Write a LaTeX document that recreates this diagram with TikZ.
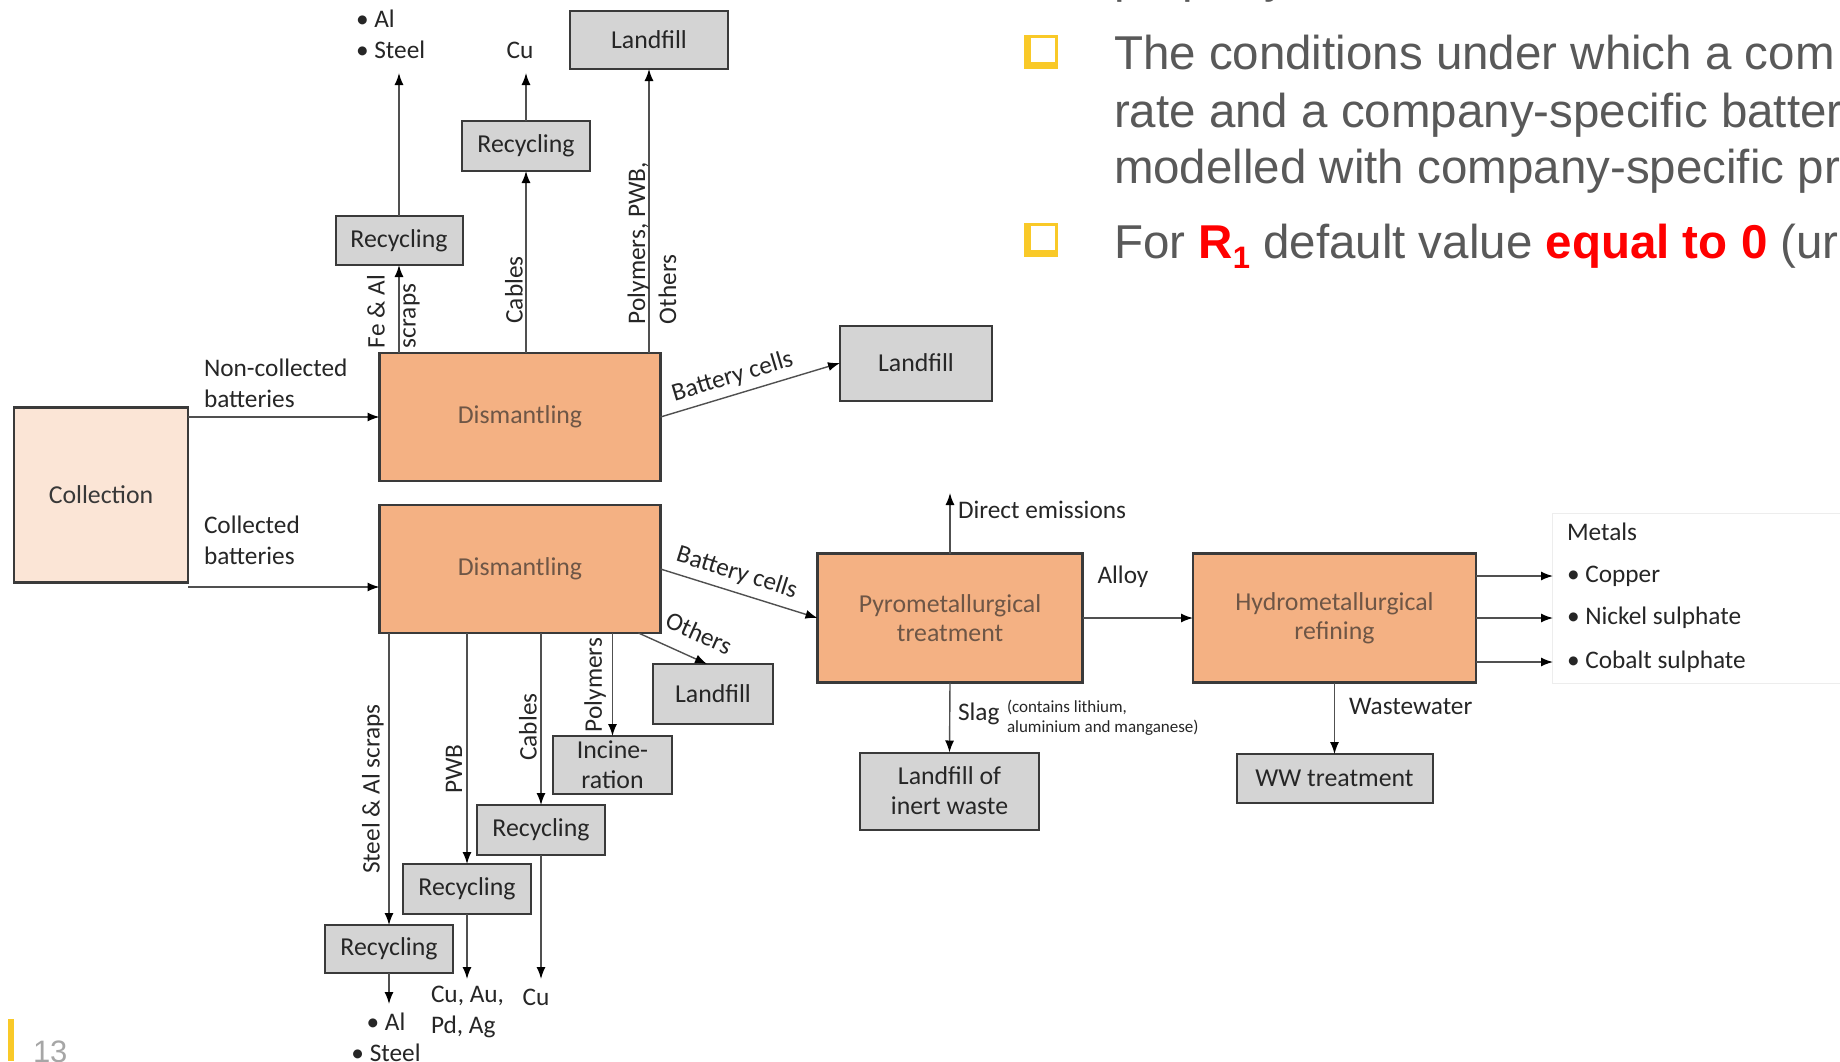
\documentclass[tikz,border=0pt]{standalone}
\usepackage{fontspec}
\setmainfont{Carlito}
\newfontfamily\slidefont{Liberation Sans}
\usetikzlibrary{arrows.meta}
\definecolor{orangebox}{HTML}{F4B183}
\definecolor{peach}{HTML}{FBE5D6}
\definecolor{graybox}{HTML}{D4D4D4}
\definecolor{edge}{HTML}{3A3A3A}
\definecolor{boxtext}{HTML}{6E5646}
\definecolor{txt}{HTML}{262626}
\definecolor{linec}{HTML}{505050}
\definecolor{slidegray}{HTML}{595959}
\definecolor{slideyellow}{HTML}{F9C928}
\definecolor{slidered}{HTML}{FF0000}
\begin{document}
\begin{tikzpicture}[x=1pt,y=-1pt,
 every node/.style={inner sep=0pt,outer sep=0pt},
 lbl/.style={font=\fontsize{25.3}{31}\selectfont, text=txt},
 small/.style={font=\fontsize{17}{20}\selectfont, text=txt},
 proc/.style={draw=edge, line width=2.2pt, fill=orangebox, text=boxtext, font=\fontsize{25.8}{29}\selectfont, align=center},
 gbox/.style={draw=edge, line width=2pt, fill=graybox, text=txt, font=\fontsize{25.8}{30}\selectfont, align=center},
 flow/.style={draw=linec, line width=1.4pt, -{Latex[length=12pt,width=9pt,color=black]}},
 slide/.style={font=\slidefont\fontsize{47.5}{57}\selectfont, text=slidegray, anchor=base west},
]
\fill[white] (0,0) rectangle (1840,1061);
\useasboundingbox (0,0) rectangle (1840,1061);
\clip (0,0) rectangle (1840,1061);

% ---------- process boxes ----------
\node[proc, fill=peach, text=black!78, minimum width=174, minimum height=175] (coll) at (101,495) {Collection};
\node[proc, minimum width=281, minimum height=128] (dis1) at (520,417) {Dismantling};
\node[proc, minimum width=281, minimum height=128] (dis2) at (520,569) {Dismantling};
\node[proc, minimum width=265, minimum height=129] (pyro) at (950,618) {Pyrometallurgical\\treatment};
\node[proc, minimum width=283, minimum height=129] (hydro) at (1334.5,618) {Hydrometallurgical\\refining};

% ---------- grey boxes ----------
\node[gbox, minimum width=152, minimum height=75] (lf1) at (916,363) {Landfill};
\node[gbox, minimum width=127, minimum height=49] (rec1) at (399,240.5) {Recycling};
\node[gbox, minimum width=128, minimum height=50] (rec2) at (526,146) {Recycling};
\node[gbox, minimum width=158, minimum height=58] (lf2) at (649,40) {Landfill};
\node[gbox, minimum width=120, minimum height=60] (lf3) at (713,694) {Landfill};
\node[gbox, minimum width=119, minimum height=58] (inc) at (612.5,765) {Incine-\\ration};
\node[gbox, minimum width=128, minimum height=50] (rec3) at (541,830) {Recycling};
\node[gbox, minimum width=128, minimum height=50] (rec4) at (467,889) {Recycling};
\node[gbox, minimum width=128, minimum height=48] (rec5) at (389,949) {Recycling};
\node[gbox, minimum width=179, minimum height=77] (lfi) at (949.5,791) {Landfill of\\inert waste};
\node[gbox, minimum width=196, minimum height=49] (ww) at (1334.5,778.5) {WW treatment};

% ---------- free coordinates ----------
\coordinate (t1) at (399,73);
\coordinate (t2) at (526,73);
\coordinate (de) at (950,493);
\coordinate (t5) at (389,1004);
\coordinate (t4) at (467,979);
\coordinate (t3) at (541,979);
\path ([yshift=-4.5pt]coll.south east) coordinate (c2);

% ---------- output texts ----------
\node[lbl, align=left, anchor=west] (oalst) at (356,34) {• Al\\• Steel};
\node[lbl] (ocu) at (520,50) {Cu};
\node[lbl, align=center] (oalst2) at (386,1037) {• Al\\• Steel};
\node[lbl, align=left, anchor=west] (ocuau) at (431,1012) {Cu, Au,\\Pd, Ag};
\node[lbl] (ocu2) at (536,997) {Cu};

% ---------- top flows ----------
\draw[flow] (dis1.north -| rec1) -- (rec1.south);
\draw[flow] (rec1.north) -- (t1);
\draw[flow] (dis1.north -| rec2) -- (rec2.south);
\draw[flow] (rec2.north) -- (t2);
\draw[flow] (dis1.north -| lf2) -- (lf2.south);
\node[lbl, rotate=90, align=left, anchor=west] (lfeal) at (393.5,348) {Fe \& Al\\scraps};
\node[lbl, rotate=90] (lcab1) at (514,290) {Cables};
\node[lbl, rotate=90, align=left, anchor=west] (lpoly1) at (652,324) {Polymers, PWB,\\Others};

% ---------- collection flows ----------
\node[lbl, align=left, anchor=west] (lnc) at (204,383) {Non-collected\\batteries};
\node[lbl, align=left, anchor=west] (lc) at (204,540) {Collected\\batteries};
\draw[flow] (coll.east |- dis1) -- (dis1.west);
\draw[flow] (c2) -- (c2 -| dis2.west);

% ---------- battery cells ----------
\draw[flow] (dis1.east) -- (lf1.west) node[lbl, pos=0.43, sloped, above=7pt] (lbc1) {Battery cells};
\draw[flow] (dis2.east) -- (pyro.west) node[lbl, pos=0.45, sloped, above=8pt] (lbc2) {Battery cells};
\draw[flow] ([xshift=-22pt]dis2.south east) -- ([xshift=-6pt]lf3.north);
\node[lbl, rotate=-24] (loth) at (699,633) {Others};

% ---------- bottom flows ----------
\draw[flow] (dis2.south -| rec5) -- (rec5.north);
\draw[flow] (rec5.south) -- (t5);
\draw[flow] (dis2.south -| rec4) -- (rec4.north);
\draw[flow] (rec4.south) -- (t4);
\draw[flow] (dis2.south -| rec3) -- (rec3.north);
\draw[flow] (rec3.south) -- (t3);
\draw[flow] (dis2.south -| inc) -- (inc.north);
\node[lbl, rotate=90] (lsteel) at (373,789) {Steel \& Al scraps};
\node[lbl, rotate=90] (lpwb) at (454,769) {PWB};
\node[lbl, rotate=90] (lcab2) at (528,727) {Cables};
\node[lbl, rotate=90] (lpoly2) at (595,685) {Polymers};

% ---------- metallurgy ----------
\draw[flow] (pyro.north) -- (de);
\node[lbl, anchor=west] (lde) at (958,510) {Direct emissions};
\draw[flow] (pyro.east) -- (hydro.west);
\node[lbl] (lalloy) at (1123,577) {Alloy};
\draw[flow] (pyro.south) -- (lfi.north);
\node[lbl, anchor=west] (lslag) at (958,714) {Slag};
\node[small, align=left, anchor=west] (lslag2) at (1007,718) {(contains lithium,\\aluminium and manganese)};
\draw[flow] (hydro.south) -- (ww.north);
\node[lbl, anchor=west] (lww) at (1349,706) {Wastewater};

% ---------- metals ----------
\draw[black!7, line width=1pt] (1552,513) rectangle (1870,683);
\node[lbl, anchor=west] (met) at (1567,532) {Metals};
\node[lbl, anchor=west] (m1) at (1567,576) {• Copper};
\node[lbl, anchor=west] (m2) at (1567,618) {• Nickel sulphate};
\node[lbl, anchor=west] (m3) at (1567,662) {• Cobalt sulphate};
\draw[flow] (hydro.east |- m1.west) -- ([xshift=-14pt]m1.west);
\draw[flow] (hydro.east |- m2.west) -- ([xshift=-14pt]m2.west);
\draw[flow] (hydro.east |- m3.west) -- ([xshift=-14pt]m3.west);

% ---------- slide text ----------
\foreach \yy in {35,223} {
  \fill[slideyellow] (1024,\yy) rectangle (1058,\yy+34);
  \fill[white] (1031,\yy+3) rectangle (1055,\yy+27);
}
\node[slide] (s0) at (1114,-8) {property};
\node[slide] (s1) at (1114,69) {The conditions under which a com};
\node[slide] (s2) at (1114,127) {rate and a company-specific batter};
\node[slide] (s3) at (1114,183) {modelled with company-specific pr};
\node[slide] (s4) at (1114,258) {For {\color{slidered}\bfseries R\raisebox{-0.22em}{\fontsize{31}{31}\selectfont 1}} default value {\color{slidered}\bfseries equal to 0} (ur};

% ---------- page number ----------
\fill[slideyellow] (8,1019) rectangle (14,1061);
\node[font=\slidefont\fontsize{31}{31}\selectfont, text=black!35, anchor=base west] (pg) at (33,1062) {13};
\end{tikzpicture}
\end{document}
